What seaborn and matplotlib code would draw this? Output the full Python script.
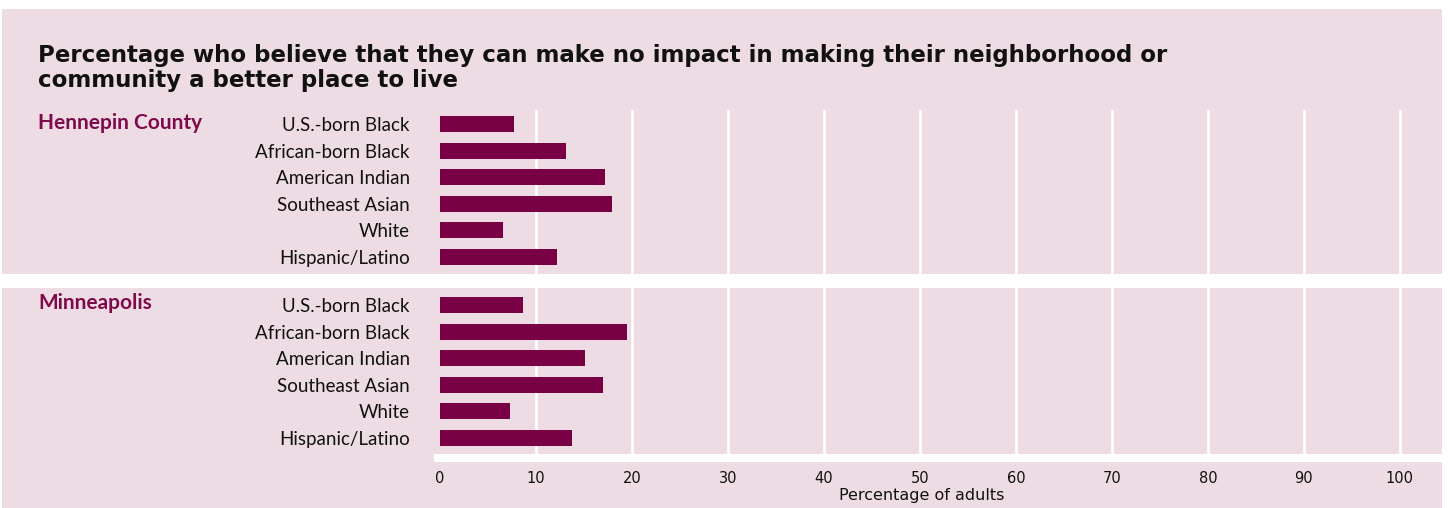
import matplotlib
matplotlib.use("Agg")
import matplotlib.pyplot as plt
import seaborn as sns
import pandas as pd
from matplotlib.patches import Rectangle

# ---- data ----
categories = ["U.S.-born Black", "African-born Black", "American Indian",
              "Southeast Asian", "White", "Hispanic/Latino"]
hennepin_values = [7.7, 13.1, 17.2, 17.9, 6.6, 12.2]
minneapolis_values = [8.6, 19.5, 15.1, 17.0, 7.3, 13.8]
regions = ["Hennepin County", "Minneapolis"]
x_ticks = [0, 10, 20, 30, 40, 50, 60, 70, 80, 90, 100]
title_text = ("Percentage who believe that they can make no impact in making their neighborhood or\n"
              "community a better place to live")
x_label = "Percentage of adults"

# ---- style ----
PINK = "#EEDCE4"
BAR = "#7A0046"
MAROON = "#7F0A4B"
TEXT = "#111111"

sns.set_theme(style="white")
plt.rcParams['font.family'] = ['Lato', 'DejaVu Sans']

W, H = 1448, 508
fig = plt.figure(figsize=(W / 100, H / 100), dpi=100, facecolor="white")


def fx(px):
    return px / W


def fy(py):
    return 1 - py / H


# pink panel and white separator band (behind the axes)
fig.patches.append(Rectangle((fx(2), 0), fx(1442) - fx(2), fy(9), transform=fig.transFigure,
                             facecolor=PINK, edgecolor="none", zorder=-10))
fig.patches.append(Rectangle((0, fy(288)), 1, (288 - 274) / H, transform=fig.transFigure,
                             facecolor="white", edgecolor="none", zorder=-9))

tick_font = ['DejaVu Sans']

panels = [
    (regions[0], hennepin_values, 110, 274, 123),
    (regions[1], minneapolis_values, 288, 454, 303),
]

for i, (region, vals, top_px, bot_px, label_y) in enumerate(panels):
    ax = fig.add_axes([fx(434), fy(bot_px), fx(1442) - fx(434), (bot_px - top_px) / H])
    ax.set_facecolor("none")
    df = pd.DataFrame({"category": categories, "value": vals})
    sns.barplot(data=df, x="value", y="category", orient="h", color=BAR,
                saturation=1, width=0.6, linewidth=0, edgecolor="none", ax=ax, zorder=3)
    ax.set_xlim(-0.625, 104.4)
    if i == 0:
        ax.set_ylim(5.64, -0.53)
    else:
        ax.set_ylim(5.6, -0.64)
    ax.set_xticks(x_ticks)
    ax.set_axisbelow(True)
    for s in ["top", "right", "left"]:
        ax.spines[s].set_visible(False)
    ax.set_ylabel("")
    ax.tick_params(axis="y", length=0, pad=17.3, labelsize=13.5, labelcolor=TEXT)
    if i == 0:
        ax.spines["bottom"].set_visible(False)
        ax.tick_params(axis="x", length=0, labelbottom=False)
        ax.set_xlabel("")
    else:
        sp = ax.spines["bottom"]
        sp.set_visible(True)
        sp.set_color("white")
        sp.set_linewidth(5.76)
        sp.set_capstyle("butt")
        sp.set_position(("outward", 2.88))
        ax.tick_params(axis="x", length=0, pad=9.5, labelsize=10.5, labelcolor=TEXT)
        for t in ax.get_xticklabels():
            t.set_family(tick_font)
        ax.set_xlabel(x_label, fontsize=11.5, family=tick_font, color=TEXT)
        ax.xaxis.label.set_va("top")
        ax.xaxis.set_label_coords((922 - 434) / (1442 - 434), -(488 - 454) / (454 - 288))
    ax.grid(axis="x", color="white", linewidth=1.9)
    ax.grid(axis="y", visible=False)
    for j, gl in enumerate(ax.get_xgridlines()):
        if j == 0:
            gl.set_visible(False)
    fig.text(fx(38), fy(label_y), region, ha="left", va="center", fontsize=15,
             fontweight="bold", color=MAROON)

fig.text(fx(38), fy(68), title_text, ha="left", va="center", fontsize=16.5,
         fontweight="bold", color=TEXT, family=['DejaVu Sans'], linespacing=1.1)

fig.savefig("out.png", dpi=100, facecolor=fig.get_facecolor())
